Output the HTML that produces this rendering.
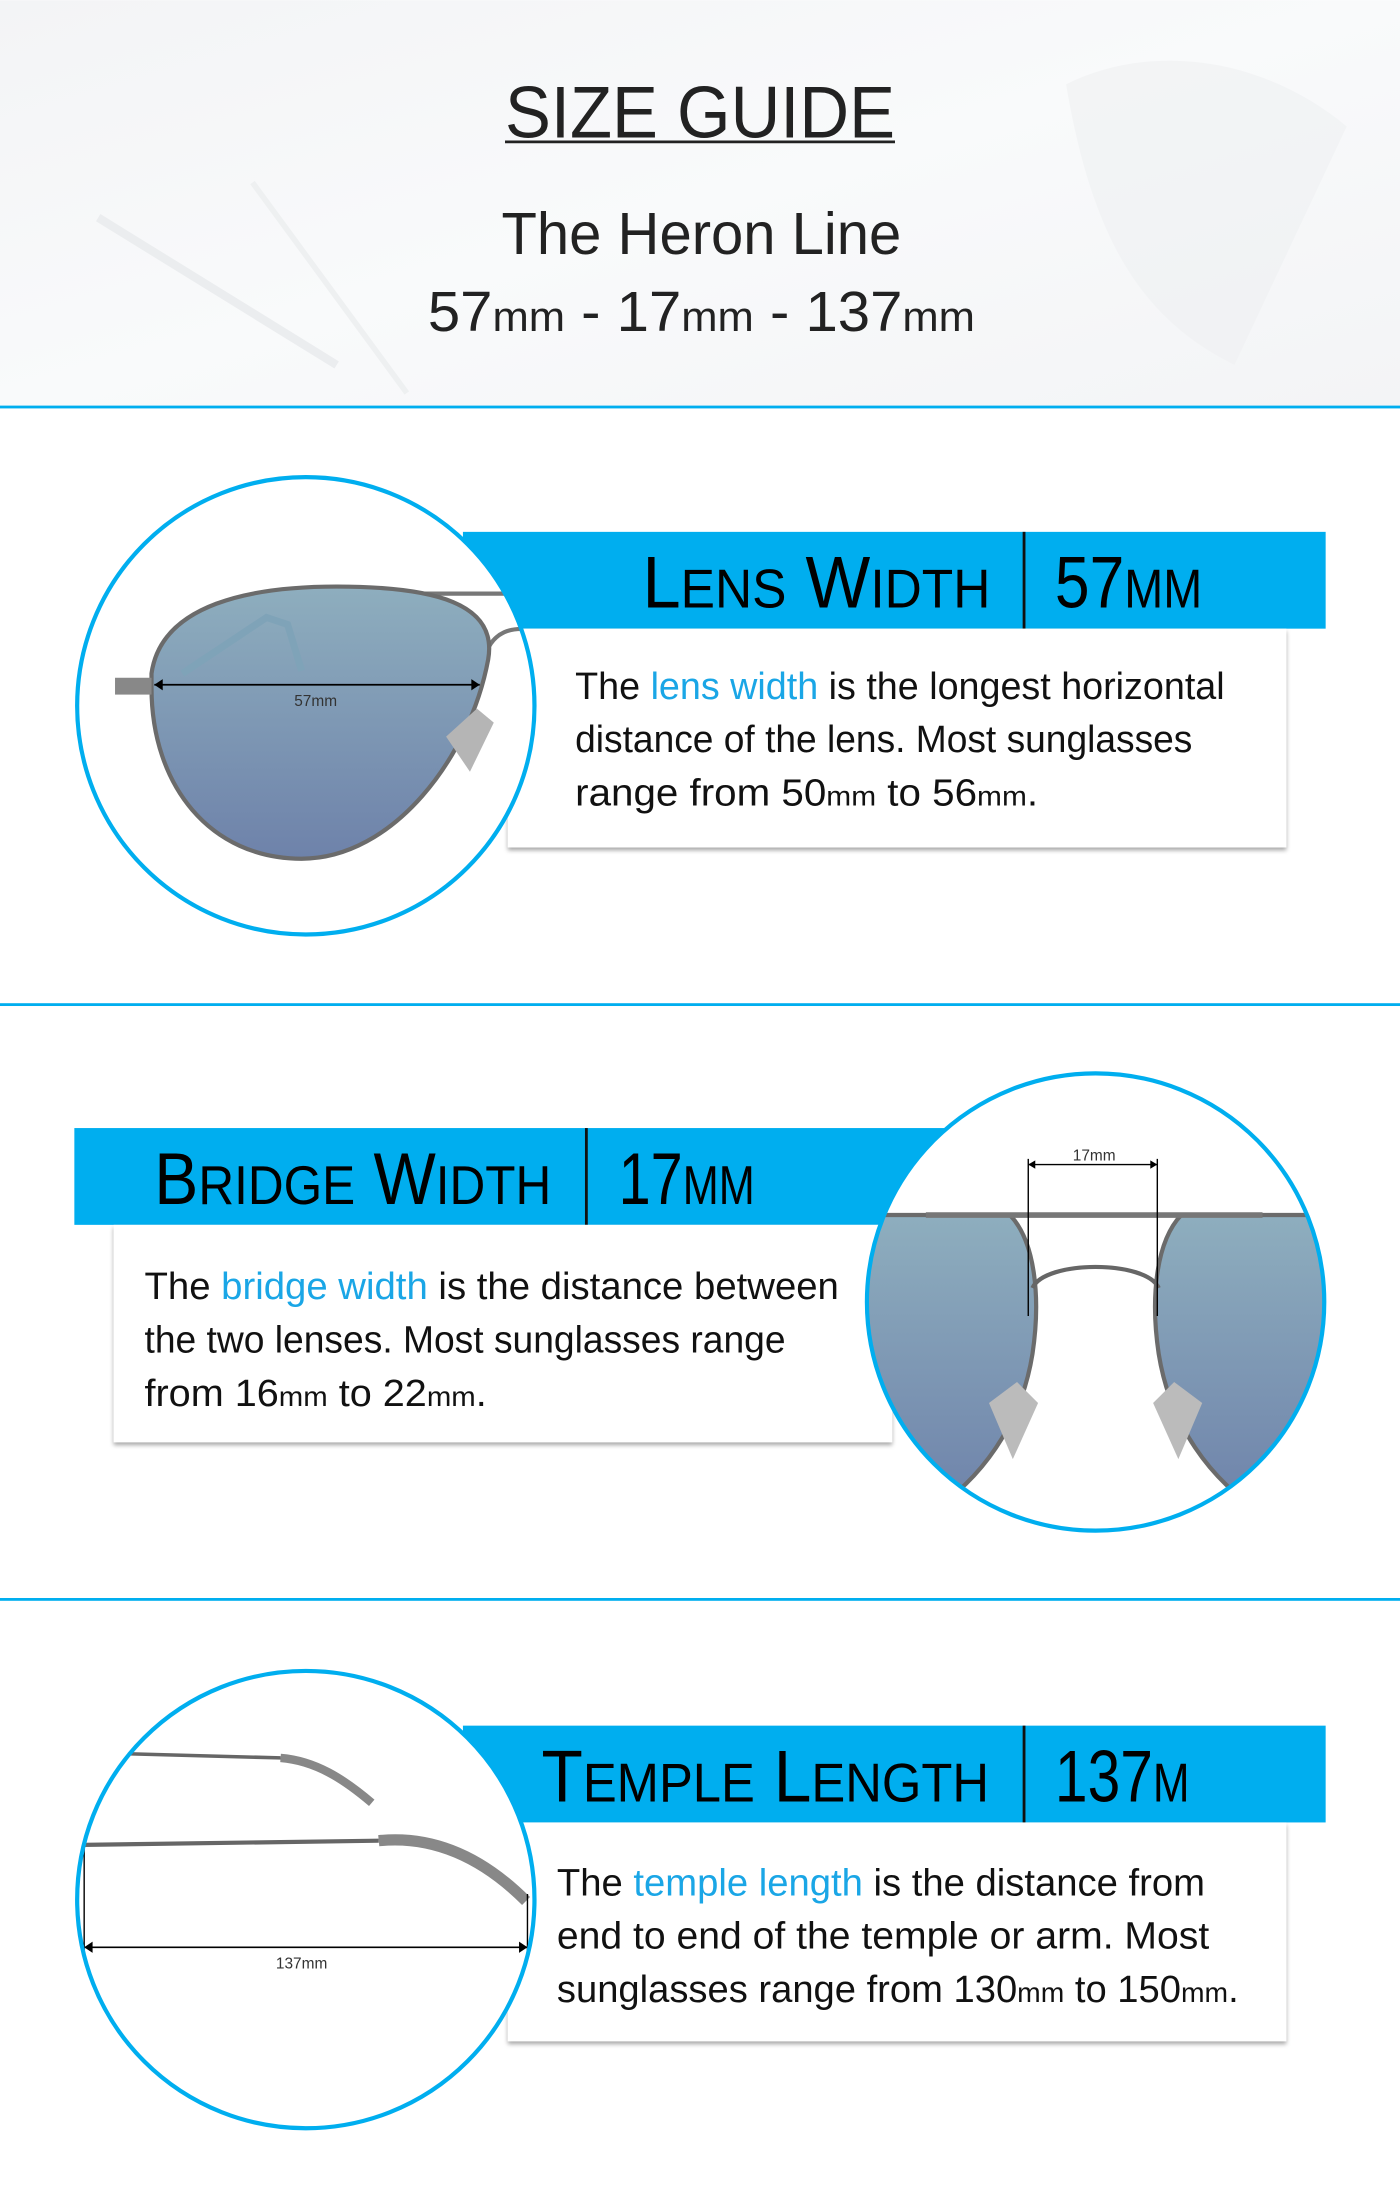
<!DOCTYPE html>
<html><head><meta charset="utf-8"><style>
html,body{margin:0;padding:0;background:#fff}
svg{display:block}
text{font-family:"Liberation Sans",sans-serif}
</style></head><body>
<svg width="1400" height="2200" viewBox="0 0 998 1568" xmlns="http://www.w3.org/2000/svg">
<defs>
<linearGradient id="hdr" x1="0" y1="0" x2="1" y2="1"><stop offset="0" stop-color="#f3f4f6"/><stop offset="0.5" stop-color="#f9fafb"/><stop offset="1" stop-color="#f3f4f6"/></linearGradient>
<linearGradient id="lens" x1="0" y1="0" x2="0" y2="1"><stop offset="0" stop-color="#8eaebe"/><stop offset="1" stop-color="#6e82aa"/></linearGradient>
<clipPath id="c1"><circle cx="218" cy="503" r="162"/></clipPath>
<clipPath id="c2"><circle cx="781" cy="928" r="162"/></clipPath>
<clipPath id="c3"><circle cx="218" cy="1354" r="162"/></clipPath>
<filter id="sh" x="-5%" y="-5%" width="110%" height="120%"><feDropShadow dx="0" dy="2" stdDeviation="1.5" flood-color="#000" flood-opacity="0.35"/></filter>
</defs>

<!-- header -->
<g>
<rect x="0" y="0" width="998" height="290" fill="url(#hdr)"/>
<path d="M760,60 C820,30 900,40 960,90 L880,260 C820,230 780,180 760,60Z" fill="#eef0f2" opacity="0.6"/>
<line x1="70" y1="155" x2="240" y2="260" stroke="#ebedef" stroke-width="6"/>
<line x1="180" y1="130" x2="290" y2="280" stroke="#eef0f1" stroke-width="4"/>
<text x="499" y="98" font-size="52" text-anchor="middle" fill="#222" textLength="278" lengthAdjust="spacingAndGlyphs">SIZE GUIDE</text>
<line x1="360" y1="101" x2="638" y2="101" stroke="#222" stroke-width="2"/>
<text x="500" y="181" font-size="42" text-anchor="middle" fill="#222" textLength="285" lengthAdjust="spacingAndGlyphs">The Heron Line</text>
<text x="500" y="236" font-size="40" text-anchor="middle" fill="#222" textLength="390" lengthAdjust="spacingAndGlyphs">57<tspan font-size="30">mm</tspan> - 17<tspan font-size="30">mm</tspan> - 137<tspan font-size="30">mm</tspan></text>
</g>
<rect x="0" y="289" width="998" height="2" fill="#00aeef"/>
<rect x="0" y="715" width="998" height="2" fill="#00aeef"/>
<rect x="0" y="1139" width="998" height="2" fill="#00aeef"/>

<!-- section 1 -->
<g>
<rect x="330" y="379" width="615" height="69" fill="#00aeef"/>
<rect x="729" y="379" width="2" height="69" fill="#111"/>
<text x="458" y="433" font-size="52" fill="#000" textLength="248" lengthAdjust="spacingAndGlyphs">L<tspan font-size="39">ENS</tspan> W<tspan font-size="39">IDTH</tspan></text>
<text x="752" y="433" font-size="52" fill="#000" textLength="105" lengthAdjust="spacingAndGlyphs">57<tspan font-size="39">MM</tspan></text>
<rect x="362" y="448" width="555" height="156" fill="#fff" filter="url(#sh)"/>
<text x="410" y="498" font-size="27" fill="#111" textLength="463" lengthAdjust="spacingAndGlyphs">The <tspan fill="#1aa6e6">lens width</tspan> is the longest horizontal</text>
<text x="410" y="536" font-size="27" fill="#111" textLength="440" lengthAdjust="spacingAndGlyphs">distance of the lens. Most sunglasses</text>
<text x="410" y="574" font-size="27" fill="#111" textLength="330" lengthAdjust="spacingAndGlyphs">range from 50<tspan font-size="20">mm</tspan> to 56<tspan font-size="20">mm</tspan>.</text>
<circle cx="218" cy="503" r="163" fill="#fff"/>
<g clip-path="url(#c1)">
<line x1="300" y1="423" x2="380" y2="423" stroke="#777" stroke-width="3"/>
<path d="M345,470 C350,450 365,445 385,450" fill="none" stroke="#777" stroke-width="3"/>
<path d="M108,480 C115,430 180,418 240,418 C310,418 355,430 348,470 C335,540 280,612 215,612 C150,612 108,560 108,490 Z" fill="url(#lens)" stroke="#6b6b6b" stroke-width="3"/>
<path d="M130,480 L190,440 L205,445 L215,478" fill="none" stroke="#7fa3b8" stroke-width="5"/>
<rect x="82" y="483" width="26" height="12" fill="#888"/>
<path d="M318,525 L340,505 L352,515 L335,550 Z" fill="#b5b5b5"/>
<line x1="110" y1="488" x2="342" y2="488" stroke="#000" stroke-width="1.2"/>
<path d="M110,488 l6,-4 v8z M342,488 l-6,-4 v8z" fill="#000"/>
<text x="225" y="503" font-size="11" fill="#333" text-anchor="middle">57mm</text>
</g>
<circle cx="218" cy="503" r="163" fill="none" stroke="#00aeef" stroke-width="3"/>
</g>

<!-- section 2 -->
<g>
<rect x="53" y="804" width="640" height="69" fill="#00aeef"/>
<rect x="417" y="804" width="2" height="69" fill="#111"/>
<text x="110" y="858" font-size="52" fill="#000" textLength="283" lengthAdjust="spacingAndGlyphs">B<tspan font-size="39">RIDGE</tspan> W<tspan font-size="39">IDTH</tspan></text>
<text x="441" y="858" font-size="52" fill="#000" textLength="97" lengthAdjust="spacingAndGlyphs">17<tspan font-size="39">MM</tspan></text>
<rect x="81" y="873" width="555" height="155" fill="#fff" filter="url(#sh)"/>
<text x="103" y="926" font-size="27" fill="#111" textLength="495" lengthAdjust="spacingAndGlyphs">The <tspan fill="#1aa6e6">bridge width</tspan> is the distance between</text>
<text x="103" y="964" font-size="27" fill="#111" textLength="457" lengthAdjust="spacingAndGlyphs">the two lenses. Most sunglasses range</text>
<text x="103" y="1002" font-size="27" fill="#111" textLength="244" lengthAdjust="spacingAndGlyphs">from 16<tspan font-size="20">mm</tspan> to 22<tspan font-size="20">mm</tspan>.</text>
<circle cx="781" cy="928" r="163" fill="#fff"/>
<g clip-path="url(#c2)">
<path d="M610,866 L720,866 C738,885 742,925 736,965 C728,1015 700,1055 660,1080 L610,1080 Z" fill="url(#lens)" stroke="#6b6b6b" stroke-width="3"/>
<path d="M952,866 L842,866 C824,885 820,925 826,965 C834,1015 862,1055 902,1080 L952,1080 Z" fill="url(#lens)" stroke="#6b6b6b" stroke-width="3"/>
<line x1="660" y1="866" x2="900" y2="866" stroke="#777" stroke-width="4"/>
<path d="M736,918 C745,898 817,898 826,918" fill="none" stroke="#666" stroke-width="3"/>
<path d="M705,1000 L725,985 L740,1000 L722,1040 Z" fill="#bbb"/>
<path d="M857,1000 L837,985 L822,1000 L840,1040 Z" fill="#bbb"/>
<line x1="733" y1="826" x2="733" y2="938" stroke="#000" stroke-width="1"/>
<line x1="825" y1="826" x2="825" y2="938" stroke="#000" stroke-width="1"/>
<line x1="733" y1="830" x2="825" y2="830" stroke="#000" stroke-width="1"/>
<path d="M733,830 l5,-3 v6z M825,830 l-5,-3 v6z" fill="#000"/>
<text x="780" y="827" font-size="11" fill="#333" text-anchor="middle">17mm</text>
</g>
<circle cx="781" cy="928" r="163" fill="none" stroke="#00aeef" stroke-width="3"/>
</g>

<!-- section 3 -->
<g>
<rect x="330" y="1230" width="615" height="69" fill="#00aeef"/>
<rect x="729" y="1230" width="2" height="69" fill="#111"/>
<text x="386" y="1284" font-size="52" fill="#000" textLength="319" lengthAdjust="spacingAndGlyphs">T<tspan font-size="39">EMPLE</tspan> L<tspan font-size="39">ENGTH</tspan></text>
<text x="752" y="1284" font-size="52" fill="#000" textLength="96" lengthAdjust="spacingAndGlyphs">137<tspan font-size="39">M</tspan></text>
<rect x="362" y="1299" width="555" height="156" fill="#fff" filter="url(#sh)"/>
<text x="397" y="1351" font-size="27" fill="#111" textLength="462" lengthAdjust="spacingAndGlyphs">The <tspan fill="#1aa6e6">temple length</tspan> is the distance from</text>
<text x="397" y="1389" font-size="27" fill="#111" textLength="465" lengthAdjust="spacingAndGlyphs">end to end of the temple or arm. Most</text>
<text x="397" y="1427" font-size="27" fill="#111" textLength="486" lengthAdjust="spacingAndGlyphs">sunglasses range from 130<tspan font-size="20">mm</tspan> to 150<tspan font-size="20">mm</tspan>.</text>
<circle cx="218" cy="1354" r="163" fill="#fff"/>
<g clip-path="url(#c3)">
<path d="M90,1250 L200,1253" fill="none" stroke="#666" stroke-width="2.5"/>
<path d="M200,1253 C225,1255 245,1268 265,1285" fill="none" stroke="#888" stroke-width="6"/>
<path d="M60,1315 L270,1312" fill="none" stroke="#666" stroke-width="3"/>
<path d="M270,1312 C310,1308 345,1325 375,1355" fill="none" stroke="#888" stroke-width="8"/>
<line x1="60" y1="1310" x2="60" y2="1395" stroke="#000" stroke-width="1"/>
<line x1="376" y1="1350" x2="376" y2="1395" stroke="#000" stroke-width="1"/>
<line x1="60" y1="1388" x2="376" y2="1388" stroke="#000" stroke-width="1.2"/>
<path d="M60,1388 l6,-4 v8z M376,1388 l-6,-4 v8z" fill="#000"/>
<text x="215" y="1403" font-size="11" fill="#333" text-anchor="middle">137mm</text>
</g>
<circle cx="218" cy="1354" r="163" fill="none" stroke="#00aeef" stroke-width="3"/>
</g>
</svg>
</body></html>
